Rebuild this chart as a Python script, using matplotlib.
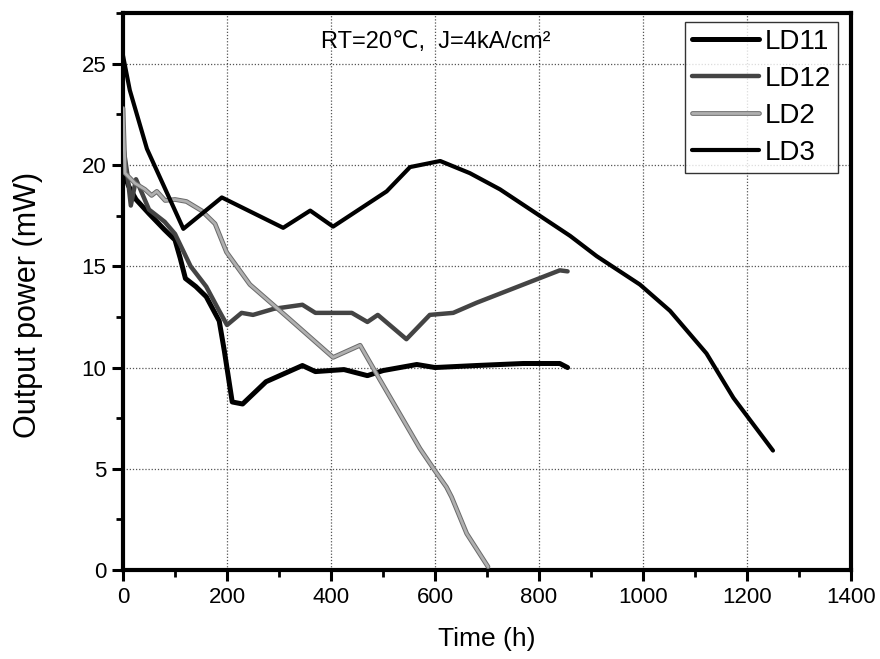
import matplotlib
matplotlib.use("Agg")
import matplotlib.pyplot as plt
import matplotlib.patheffects as pe
from matplotlib.ticker import MultipleLocator

plt.rcParams['font.family'] = ['Liberation Sans', 'DejaVu Sans']

# ---- data ----
ld11_t = [0, 10, 25, 50, 80, 100, 110, 120, 140, 160, 185, 195, 210, 230, 275, 345, 370,
          425, 470, 500, 565, 600, 680, 770, 840, 855]
ld11_p = [19.8, 19.0, 18.3, 17.6, 16.8, 16.3, 15.4, 14.4, 14.0, 13.5, 12.3, 10.8, 8.3, 8.2,
          9.3, 10.1, 9.8, 9.9, 9.6, 9.85, 10.15, 10.0, 10.1, 10.2, 10.2, 10.0]

ld12_t = [0, 8, 15, 25, 35, 50, 80, 100, 115, 130, 160, 185, 200, 228, 250, 290, 345, 370,
          440, 470, 490, 545, 590, 635, 680, 840, 855]
ld12_p = [21.0, 19.6, 18.0, 19.3, 18.7, 17.8, 17.2, 16.6, 15.8, 15.0, 14.0, 12.8, 12.1, 12.7,
          12.6, 12.9, 13.1, 12.7, 12.7, 12.25, 12.6, 11.4, 12.6, 12.7, 13.2, 14.8, 14.75]

ld2_t = [0, 4, 23, 42, 55, 65, 81, 100, 122, 151, 177, 199, 244, 320, 404, 456, 494, 571,
         600, 622, 632, 661, 702]
ld2_p = [22.8, 19.6, 19.1, 18.8, 18.5, 18.7, 18.25, 18.3, 18.2, 17.75, 17.1, 15.7, 14.1,
         12.4, 10.5, 11.1, 9.4, 6.0, 4.9, 4.1, 3.6, 1.8, 0.16]

ld3_t = [0, 13, 46, 116, 190, 308, 360, 404, 507, 552, 610, 667, 725, 860, 911, 994, 1052,
         1122, 1174, 1250]
ld3_p = [25.4, 23.7, 20.8, 16.85, 18.4, 16.9, 17.75, 16.96, 18.7, 19.9, 20.2, 19.6, 18.8,
         16.5, 15.5, 14.1, 12.8, 10.7, 8.5, 5.9]

labels = ['LD11', 'LD12', 'LD2', 'LD3']
x_ticks = [0, 200, 400, 600, 800, 1000, 1200, 1400]
y_ticks = [0, 5, 10, 15, 20, 25]

fig = plt.figure(figsize=(8.8, 6.59), dpi=100)
ax = fig.add_axes([0.1398, 0.135, 0.967 - 0.1398, 0.980 - 0.135])

h11, = ax.plot(ld11_t, ld11_p, color='black', lw=3.6, solid_capstyle='round',
               solid_joinstyle='round', label=labels[0], zorder=3)
h12, = ax.plot(ld12_t, ld12_p, color='#444444', lw=3.2, solid_capstyle='round',
               solid_joinstyle='round', label=labels[1], zorder=3)
h2, = ax.plot(ld2_t, ld2_p, color='#b0b0b0', lw=2.0, solid_capstyle='round',
              solid_joinstyle='round', label=labels[2], zorder=3,
              path_effects=[pe.Stroke(linewidth=3.4, foreground='#6a6a6a'), pe.Normal()])
h3, = ax.plot(ld3_t, ld3_p, color='black', lw=3.0, solid_capstyle='round',
              solid_joinstyle='round', label=labels[3], zorder=3)

ax.set_xlim(0, 1400)
ax.set_ylim(0, 27.5)
ax.set_xticks(x_ticks)
ax.set_yticks(y_ticks)
ax.xaxis.set_minor_locator(MultipleLocator(100))
ax.yaxis.set_minor_locator(MultipleLocator(2.5))
ax.tick_params(axis='both', which='major', direction='out', length=8, width=2.2,
               labelsize=16, pad=4, top=False, right=False)
ax.tick_params(axis='both', which='minor', direction='out', length=5, width=2.0,
               top=False, right=False)

ax.grid(True, which='major', linestyle=(0, (1, 1.5)), color='#555555', lw=0.9, zorder=0)

for s in ax.spines.values():
    s.set_linewidth(3.0)
    s.set_color('black')

ax.set_xlabel('Time (h)', fontsize=19, labelpad=14)
ax.set_ylabel('Output power (mW)', fontsize=22)
ax.yaxis.set_label_coords(-0.110, 0.476)

ax.text(380, 26.1, 'RT=20℃,  J=4kA/cm²', fontsize=17, ha='left', va='center',
        family=['Liberation Sans', 'DejaVu Sans', 'Noto Sans CJK SC'])

leg = fig.legend(handles=[h11, h12, h2, h3], loc='upper right',
                 bbox_to_anchor=(0.952, 0.967), bbox_transform=fig.transFigure,
                 fontsize=20, frameon=True, fancybox=False, shadow=False,
                 handlelength=2.4, handletextpad=0.2, labelspacing=0.4,
                 borderpad=0.25, borderaxespad=0)
leg.get_frame().set_edgecolor('black')
leg.get_frame().set_linewidth(1.0)

fig.savefig('out.png', dpi=100)
